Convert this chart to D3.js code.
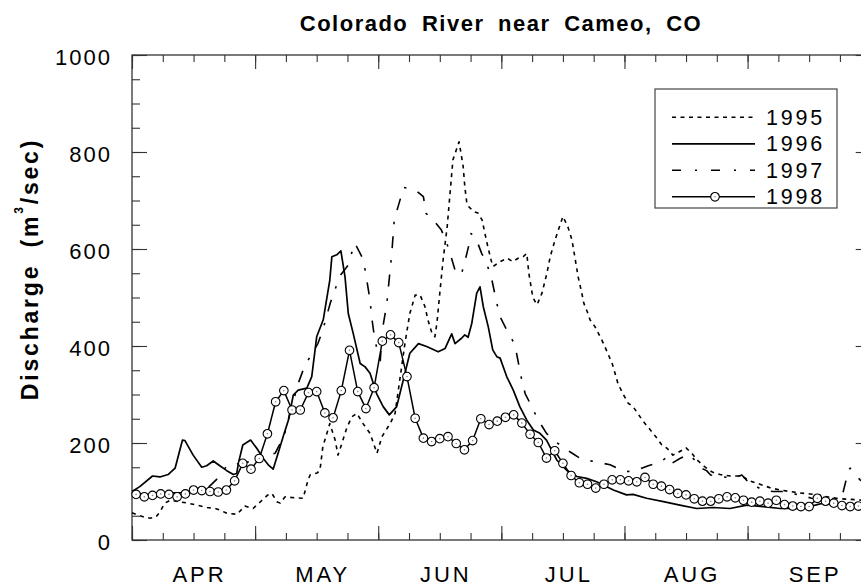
<!DOCTYPE html>
<meta charset="utf-8">
<script src="https://d3js.org/d3.v7.min.js"></script>
<style>
  body { margin: 0; background: #fff; }
  text { font-family: "Liberation Sans", Arial, Helvetica, sans-serif; fill: #000; }
</style>
<div id="chart"></div>
<script>
// month labels and y tick values
var months = ["APR", "MAY", "JUN", "JUL", "AUG", "SEP"];
var yTicks = [0, 200, 400, 600, 800, 1000];
var years = ["1995", "1996", "1997", "1998"];

// [day since Apr 1 (30-day months), discharge m3/s]
var q1995 = [[0,56],[1.2,52],[2.7,48],[4.4,45],[5.8,47],[6.8,58],[8,76],[9.3,82],[13.6,76],[15.8,72],[18.3,67],[20.2,65],[21.4,62],[23.1,55],[25.6,53],[27.5,70],[29.5,65],[31.7,82],[33.1,93],[34.1,96],[35.3,79],[36.1,76],[37.3,89],[39.7,87],[41.7,86],[42.9,124],[43.4,134],[45.1,138],[45.8,144],[46.5,192],[48.2,240],[49.5,206],[50.2,175],[51.4,206],[52.4,233],[53.6,254],[54.8,261],[56.3,240],[58,220],[59.7,179],[60.9,213],[62.9,240],[64.1,261],[66.5,405],[67.7,467],[69,505],[70.2,505],[71.4,481],[72.1,454],[73.1,426],[73.8,419],[74.3,447],[75,509],[75.8,577],[76.8,646],[77.5,715],[78.2,784],[79.7,821],[80.7,770],[81.1,728],[81.6,694],[82.1,687],[83.3,677],[84.3,674],[85.3,660],[86,632],[86.7,605],[87.5,577],[88,564],[89.7,574],[91.4,581],[92.8,574],[94.1,581],[95.3,584],[96.2,591],[96.7,550],[97.5,509],[98,495],[98.7,485],[99.9,509],[101.1,550],[101.9,584],[103.1,619],[105,667],[106.2,646],[107.2,619],[107.9,584],[108.7,543],[109.6,509],[110.1,488],[111.1,467],[111.6,454],[112.8,440],[114.5,412],[115.2,399],[117,364],[117.7,344],[118.4,323],[119.6,302],[120.9,282],[122.1,275],[123.8,254],[125,240],[126.7,223],[127.9,210],[129.1,196],[130.4,189],[131.8,175],[132.8,179],[135,190],[136.5,178],[137.7,165],[139.7,150],[141.4,140],[143.3,135],[145.8,132],[148.6,132],[150.5,122],[153,115],[155.4,108],[157.9,103],[160.3,100],[162.8,97],[165.2,95],[167.6,92],[170,88],[172.5,85],[174.9,84],[177.9,82],[180,81]];

var q1996 = [[0,100],[1.9,110],[5,132],[6.8,130],[8.8,135],[10.5,148],[12.3,206],[12.9,205],[14.9,175],[17,150],[18.2,153],[19.8,163],[21.4,153],[23.1,143],[24.7,135],[25.5,137],[26,161],[27,196],[28.9,206],[30.4,189],[32,168],[33.2,155],[34.4,146],[36.9,215],[38.1,247],[39.3,299],[40.5,309],[42.6,313],[43.8,337],[45,419],[46.6,454],[48.2,536],[48.7,584],[49.9,588],[50.9,596],[51.9,543],[52.7,467],[53.9,426],[55.6,364],[56.8,357],[58,344],[59.6,302],[61.2,275],[62.7,258],[64.5,275],[66.1,330],[67.7,385],[69.8,405],[71.8,399],[74.6,388],[76.3,395],[77.9,425],[78.7,405],[80.3,416],[81.1,423],[81.9,418],[82.8,447],[84,509],[84.8,522],[85.6,481],[86.8,440],[87.9,392],[88.9,378],[89.7,375],[91.3,337],[92.9,309],[94.5,275],[96.2,247],[97.8,227],[99.4,220],[101,206],[103.5,165],[105.9,144],[108.4,131],[110.8,127],[113.2,120],[117.3,103],[120.5,93],[122.1,94],[125.4,86],[129.5,79],[133.5,72],[137.6,65],[141.6,67],[145.7,65],[149.8,72],[153.8,69],[157.9,65],[161.9,65],[165.2,69],[168.4,76],[170.9,72],[173.7,72],[177.9,70],[180,70]];

var q1997 = [[0,96],[6,95],[12,98],[18.8,110],[21.1,129],[23.1,153],[31.1,165],[32.9,175],[34.9,179],[36.1,199],[37.1,216],[40.5,323],[42,357],[43.4,378],[45.3,405],[46.5,433],[48.3,488],[50,529],[50.8,546],[52.7,567],[53.5,591],[54.3,612],[56.2,581],[56.8,557],[58,495],[58.4,460],[59,423],[60,380],[60.5,370],[61,433],[62.1,488],[62.7,540],[63.3,591],[63.9,660],[66.2,727],[69,722],[71,708],[71.7,673],[73.4,660],[75.4,639],[76.7,612],[77.6,588],[78.7,557],[80.2,546],[81.2,577],[82,605],[82.6,632],[83.8,622],[85.2,591],[86.4,571],[87.6,540],[88.9,488],[89.7,460],[91.3,433],[92.9,409],[93.7,385],[94.9,333],[95.8,302],[97.4,275],[99,247],[101,220],[103.8,199],[106.7,182],[109.6,166],[113.2,161],[116.5,155],[120.1,141],[122.3,142],[125.8,153],[128.7,161],[130.6,172],[131.5,158],[133.5,168],[135.6,177],[137.6,161],[138.8,148],[140,143],[141,134],[144,130],[146.9,128],[148.6,134],[150.1,120],[150.9,113],[152.2,110],[153.7,103],[156.2,100],[157.9,100],[159.5,100],[160.7,96],[162.8,93],[165.6,86],[168.5,84],[171,86],[173,89],[174.6,144],[175,148],[177.4,124],[180,110]];

// 1998: one reading every 2 days, starting on day 1
var q1998 = [94,89,92,95,94,89,95,103,102,100,99,103,122,158,146,168,219,285,308,268,268,304,306,262,252,308,391,306,271,314,410,423,407,337,251,210,203,209,213,199,186,205,250,238,245,253,258,241,218,201,169,184,158,133,118,115,107,115,124,124,122,120,129,115,111,104,96,93,85,80,80,85,89,87,82,78,80,76,82,73,70,69,69,86,80,76,71,69,70];

var width = 861, height = 586;
var plotL = 132, plotR = 870.7, plotT = 55, plotB = 540;

var svg = d3.select("#chart")
  .append("svg")
    .attr("width", width)
    .attr("height", height);

var x = d3.scaleLinear().domain([0, 180]).range([plotL, plotR]);
var y = d3.scaleLinear().domain([0, 1000]).range([plotB, plotT]);

var minorX = d3.range(0, 181, 7.5);
var majorX = d3.range(0, 181, 30);
var minorY = d3.range(0, 1001, 50);

// frame
svg.append("rect")
  .attr("x", plotL).attr("y", plotT)
  .attr("width", plotR - plotL).attr("height", plotB - plotT)
  .attr("fill", "none").attr("stroke", "#222").attr("stroke-width", 1.2);

function tickAxis(axis, tx, ty) {
  var g = svg.append("g")
    .attr("transform", "translate(" + tx + "," + ty + ")")
    .call(axis);
  g.select(".domain").remove();
  g.selectAll(".tick line").attr("stroke", "#333").attr("stroke-width", 1.1);
  return g;
}

tickAxis(d3.axisBottom(x).tickValues(minorX).tickSize(-7).tickFormat(""), 0, plotB);
tickAxis(d3.axisBottom(x).tickValues(majorX).tickSize(-14).tickFormat(""), 0, plotB);
tickAxis(d3.axisTop(x).tickValues(minorX).tickSize(-7).tickFormat(""), 0, plotT);
tickAxis(d3.axisTop(x).tickValues(majorX).tickSize(-14).tickFormat(""), 0, plotT);
tickAxis(d3.axisRight(y).tickValues(minorY).tickSize(-8).tickFormat(""), plotR, 0);
tickAxis(d3.axisRight(y).tickValues(yTicks).tickSize(-15).tickFormat(""), plotR, 0);
tickAxis(d3.axisLeft(y).tickValues(minorY).tickSize(-8).tickFormat(""), plotL, 0);

var yAx = tickAxis(d3.axisLeft(y).tickValues(yTicks).tickSize(-15).tickPadding(20).tickFormat(d3.format("d")), plotL, 0);
yAx.selectAll("text")
  .attr("font-size", 22)
  .attr("font-family", "Liberation Sans, Arial, sans-serif")
  .attr("letter-spacing", 2)
  .attr("dy", "0.42em")
  .attr("fill", "#000");

// month labels, centred in each month
svg.selectAll(".month")
  .data(months)
  .enter().append("text")
    .attr("class", "month")
    .attr("x", function(d, i) { return x(15 + 30 * i) + 6; })
    .attr("y", 582)
    .attr("text-anchor", "middle")
    .attr("font-size", 22)
    .attr("letter-spacing", 3)
    .text(function(d) { return d; });

// title
svg.append("text")
  .attr("x", 501).attr("y", 31)
  .attr("text-anchor", "middle")
  .attr("font-size", 22)
  .attr("font-weight", "bold")
  .attr("letter-spacing", 1.5)
  .attr("word-spacing", 6)
  .text("Colorado River near Cameo, CO");

// y axis title
var yt = svg.append("text")
  .attr("transform", "translate(38,269) rotate(-90)")
  .attr("text-anchor", "middle")
  .attr("font-size", 23)
  .attr("font-weight", "bold")
  .attr("letter-spacing", 2.8)
  .attr("word-spacing", 7);
yt.append("tspan").text("Discharge (m");
yt.append("tspan").attr("font-size", 12).attr("dy", -15).text("3");
yt.append("tspan").attr("dy", 15).text("/sec)");

var line = d3.line()
  .x(function(d) { return x(d[0]); })
  .y(function(d) { return y(d[1]); });

var styles = {
  "1995": { dash: "4,4.5", width: 1.6 },
  "1996": { dash: null, width: 1.7 },
  "1997": { dash: "12,12,2.5,12", width: 1.6 },
  "1998": { dash: null, width: 1.5 }
};

var pts1998 = q1998.map(function(v, i) { return [1 + 2 * i, v]; });
var series = { "1995": q1995, "1997": q1997, "1996": q1996, "1998": pts1998 };

["1995", "1997", "1996", "1998"].forEach(function(k) {
  svg.append("path")
    .datum(series[k])
    .attr("d", line)
    .attr("fill", "none")
    .attr("stroke", "#000")
    .attr("stroke-width", styles[k].width)
    .attr("stroke-dasharray", styles[k].dash)
    .attr("stroke-linejoin", "round");
});

function marker(sel) {
  sel.append("circle").attr("r", 4.3)
    .attr("fill", "#fff").attr("stroke", "#000").attr("stroke-width", 1.1);
  sel.append("circle").attr("r", 0.8).attr("fill", "#888");
}

svg.selectAll(".m98")
  .data(pts1998)
  .enter().append("g")
    .attr("class", "m98")
    .attr("transform", function(d) { return "translate(" + x(d[0]) + "," + y(d[1]) + ")"; })
    .call(marker);

// legend
var lg = svg.append("g");
lg.append("rect")
  .attr("x", 655).attr("y", 89).attr("width", 182).attr("height", 119)
  .attr("fill", "#fff").attr("stroke", "#444").attr("stroke-width", 1.2);

years.forEach(function(k, i) {
  var ly = 117.3 + i * 26.5;
  lg.append("line")
    .attr("x1", 672).attr("x2", 755).attr("y1", ly).attr("y2", ly)
    .attr("stroke", "#000")
    .attr("stroke-width", styles[k].width)
    .attr("stroke-dasharray", k === "1997" ? "9,14,2,14" : styles[k].dash);
  if (k === "1998") {
    lg.append("g").attr("transform", "translate(715," + ly + ")").call(marker);
  }
  lg.append("text")
    .attr("x", 766).attr("y", ly + 7.5)
    .attr("font-size", 21.5)
    .attr("letter-spacing", 2.8)
    .text(k);
});
</script>
